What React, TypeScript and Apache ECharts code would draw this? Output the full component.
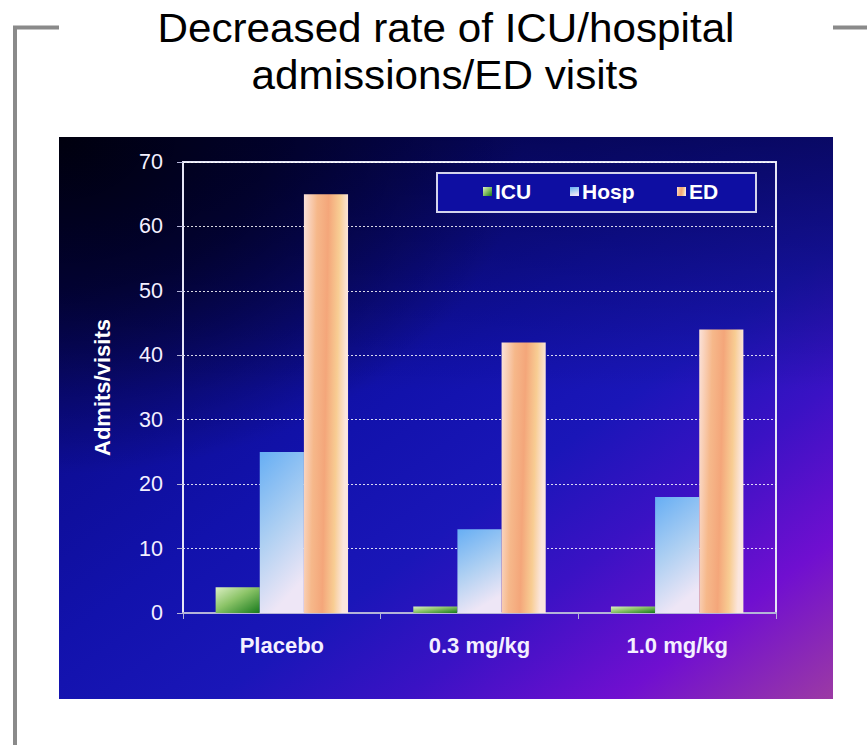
import React, { useEffect, useRef } from "react";
import * as echarts from "echarts";

const categories = ["Placebo", "0.3 mg/kg", "1.0 mg/kg"];
const icuValues = [4, 1, 1];
const hospValues = [25, 13, 18];
const edValues = [65, 42, 44];
const seriesNames = ["ICU", "Hosp", "ED"];
const titleLines = ["Decreased rate of ICU/hospital", "admissions/ED visits"];
const yAxisName = "Admits/visits";
const yMin = 0;
const yMax = 70;
const yStep = 10;

const FONT = '"Liberation Sans", Arial, Helvetica, sans-serif';

const icuColor = new echarts.graphic.LinearGradient(0, 0, 1, 1, [
  { offset: 0, color: "#dcefc4" },
  { offset: 0.45, color: "#8cc468" },
  { offset: 1, color: "#177a1c" },
]);
const hospColor = new echarts.graphic.LinearGradient(0, 0, 0.3, 1, [
  { offset: 0, color: "#66aef4" },
  { offset: 0.55, color: "#afd0f2" },
  { offset: 1, color: "#eee6f6" },
]);
const edColor = new echarts.graphic.LinearGradient(0, 0, 1, 0.15, [
  { offset: 0, color: "#fbe2da" },
  { offset: 0.3, color: "#f6b88a" },
  { offset: 0.55, color: "#f4a67a" },
  { offset: 0.8, color: "#f8cd93" },
  { offset: 1, color: "#fbe6de" },
]);

export default function App() {
  const ref = useRef<HTMLDivElement>(null);

  useEffect(() => {
    document.body.style.margin = "0";
    const chart = echarts.init(ref.current!, null, { renderer: "svg" });

    const legendItem = (name: string, left: number) => ({
      data: [name],
      left,
      top: 181,
      padding: 0,
      itemWidth: 9,
      itemHeight: 9,
      itemGap: 0,
      icon: "rect",
      textStyle: { color: "#ffffff", fontSize: 21, fontWeight: "bold", fontFamily: FONT, padding: [0, 0, 0, -2] },
    });

    const option: any = {
      animation: false,
      backgroundColor: "#ffffff",
      graphic: [
        // frame lines
        { type: "line", z: -20, shape: { x1: 15, y1: 27.5, x2: 15, y2: 745 }, style: { stroke: "#8a8a8a", lineWidth: 4 } },
        { type: "line", z: -20, shape: { x1: 13, y1: 27.5, x2: 59, y2: 27.5 }, style: { stroke: "#8a8a8a", lineWidth: 4 } },
        { type: "line", z: -20, shape: { x1: 833, y1: 27.5, x2: 867, y2: 27.5 }, style: { stroke: "#8a8a8a", lineWidth: 4 } },
        // title
        {
          type: "text", z: -20, x: 446, y: 28.5, scaleX: 1.055,
          style: { text: titleLines[0], fill: "#000000", font: `40px ${FONT}`, textAlign: "center", textVerticalAlign: "middle" },
        },
        {
          type: "text", z: -20, x: 445, y: 75.5, scaleX: 1.055,
          style: { text: titleLines[1], fill: "#000000", font: `40px ${FONT}`, textAlign: "center", textVerticalAlign: "middle" },
        },
        // background panel
        {
          type: "rect", z: -20, shape: { x: 59, y: 137, width: 774, height: 562 },
          style: {
            fill: new echarts.graphic.LinearGradient(0, 0, 1, 1, [
              { offset: 0, color: "#05056e" },
              { offset: 0.45, color: "#1212ac" },
              { offset: 0.6, color: "#1a16b8" },
              { offset: 0.72, color: "#3a12c4" },
              { offset: 0.86, color: "#700fd0" },
              { offset: 1, color: "#9c3aa4" },
            ]),
          },
        },
        {
          type: "rect", z: -19, shape: { x: 59, y: 137, width: 774, height: 562 },
          style: {
            fill: new echarts.graphic.LinearGradient(0, 0, 0, 1, [
              { offset: 0, color: "rgba(0,0,40,0.55)" },
              { offset: 0.45, color: "rgba(0,0,40,0)" },
              { offset: 1, color: "rgba(0,0,40,0)" },
            ]),
          },
        },
        {
          type: "rect", z: -18, shape: { x: 59, y: 137, width: 774, height: 562 },
          style: {
            fill: new echarts.graphic.RadialGradient(0, 0, 0.6, [
              { offset: 0, color: "rgba(0,0,14,1)" },
              { offset: 0.45, color: "rgba(0,0,24,0.7)" },
              { offset: 1, color: "rgba(0,0,30,0)" },
            ]),
          },
        },
        // legend box
        {
          type: "rect", z: -5, shape: { x: 437, y: 173, width: 319, height: 39 },
          style: { fill: "#0e0ea2", stroke: "#d4d4ec", lineWidth: 2 },
        },
      ],
      legend: [
        legendItem(seriesNames[0], 483),
        legendItem(seriesNames[1], 570),
        legendItem(seriesNames[2], 677),
      ],
      grid: {
        left: 183,
        top: 162,
        right: 91,
        bottom: 132,
        show: true,
        borderColor: "#e6e6f6",
        borderWidth: 2,
        backgroundColor: "transparent",
        containLabel: false,
      },
      xAxis: {
        type: "category",
        data: categories,
        axisLine: { show: true, lineStyle: { color: "#b4b4d8", width: 2 } },
        axisTick: { show: true, length: 6, lineStyle: { color: "#b4b4d8", width: 1 } },
        axisLabel: { color: "#f4f0ff", fontSize: 22, fontWeight: "bold", fontFamily: FONT, margin: 21 },
        splitLine: { show: false },
      },
      yAxis: {
        type: "value",
        min: yMin,
        max: yMax,
        interval: yStep,
        name: yAxisName,
        nameLocation: "middle",
        nameGap: 70,
        nameTextStyle: { color: "#ffffff", fontSize: 22, fontWeight: "bold", fontFamily: FONT },
        axisLine: { show: true, lineStyle: { color: "#e6e6f6", width: 2 } },
        axisTick: { show: true, length: 6, lineStyle: { color: "#b4b4d8", width: 1 } },
        axisLabel: { color: "#f4f0ff", fontSize: 21.5, fontFamily: FONT, margin: 20 },
        splitLine: { show: true, lineStyle: { color: "rgba(255,255,255,0.85)", width: 1, type: [2, 2] } },
      },
      series: [
        { name: seriesNames[0], type: "bar", data: icuValues, barGap: "0%", barCategoryGap: "33%", itemStyle: { color: icuColor } },
        { name: seriesNames[1], type: "bar", data: hospValues, barGap: "0%", barCategoryGap: "33%", itemStyle: { color: hospColor } },
        { name: seriesNames[2], type: "bar", data: edValues, barGap: "0%", barCategoryGap: "33%", itemStyle: { color: edColor } },
      ],
    };

    chart.setOption(option);
    return () => chart.dispose();
  }, []);

  return <div ref={ref} style={{ width: 867, height: 745 }} />;
}
